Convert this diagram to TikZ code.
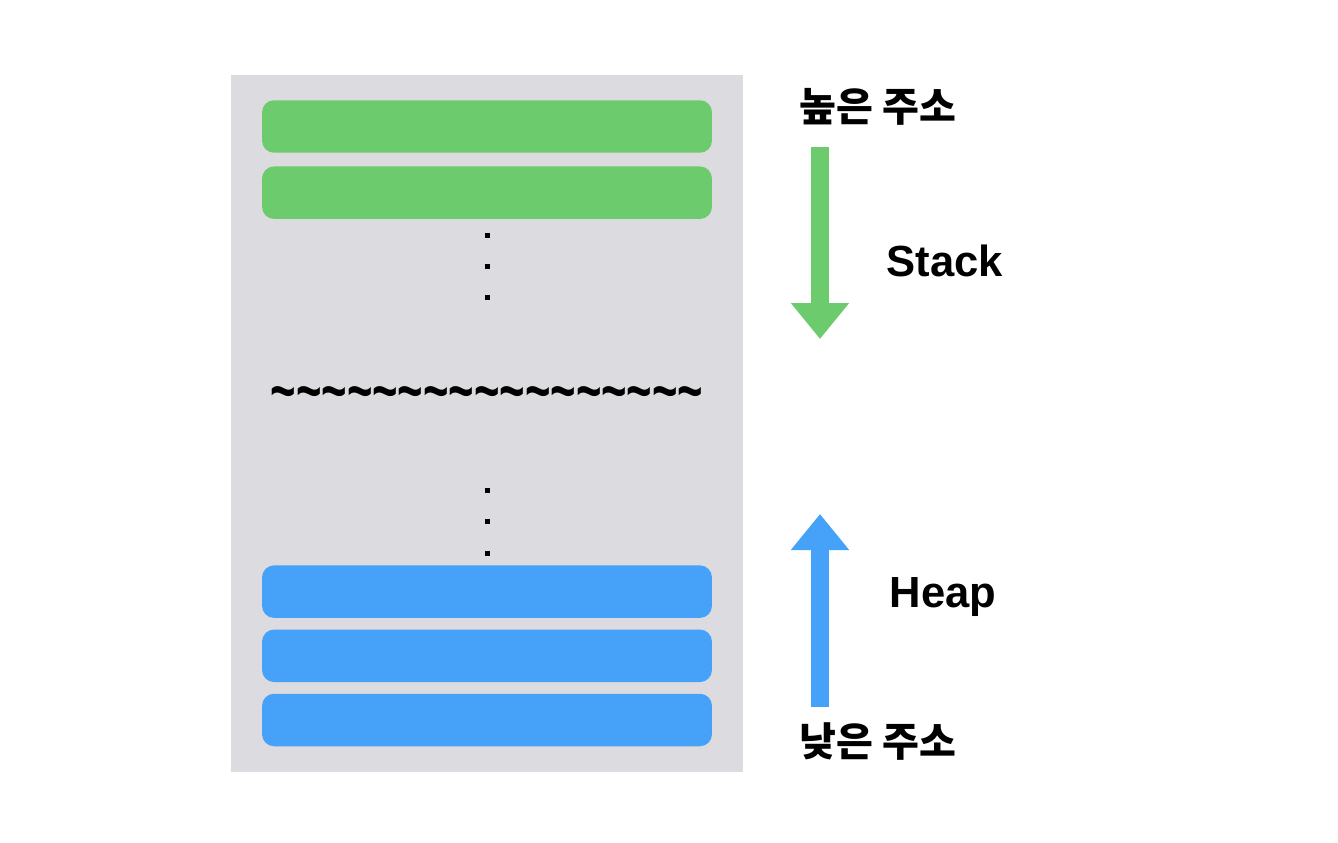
\documentclass[tikz,border=0pt]{standalone}
\usepackage{fontspec}
\setmainfont{Liberation Sans}
\newfontfamily\kofont{Noto Sans CJK KR}
\usepackage{tikz}
\usetikzlibrary{arrows.meta}
\usetikzlibrary{positioning}
\definecolor{memgray}{RGB}{220,219,224}
\definecolor{stackgreen}{RGB}{108,203,108}
\definecolor{heapblue}{RGB}{69,162,248}
\newcommand{\wavyline}{\textasciitilde\textasciitilde\textasciitilde\textasciitilde\textasciitilde\textasciitilde\textasciitilde\textasciitilde\textasciitilde\textasciitilde\textasciitilde\textasciitilde\textasciitilde\textasciitilde\textasciitilde\textasciitilde\textasciitilde}

\begin{document}
\begin{tikzpicture}[x=0.02cm,y=-0.02cm,
    block/.style={rounded corners=0.24cm,minimum width=9cm,minimum height=1.05cm,inner sep=0pt},
    bigarrow/.style={line width=0.36cm,-{Triangle[length=0.72cm,width=1.12cm]}},
    tag/.style={font=\bfseries\fontsize{24.8}{25}\selectfont,anchor=base},
    addr/.style={font=\kofont\bfseries\fontsize{22.8}{23}\selectfont,anchor=base}]
      \useasboundingbox (0,0) rectangle (1338,842);

      % memory
      \fill[memgray] (231,75) rectangle (743,772);

      \node[block,fill=stackgreen] (s1) at (487,126.5) {};
      \node[block,fill=stackgreen,below=0.26cm of s1] (s2) {};

      \node[block,fill=heapblue] (h3) at (487,720) {};
      \node[block,fill=heapblue,above=0.22cm of h3] (h2) {};
      \node[block,fill=heapblue,above=0.22cm of h2] (h1) {};

      \foreach \y in {235,266,297,490,521,553}
        \fill (485,\y-2.5) rectangle (490,\y+2.5);

      \node[font=\bfseries\fontsize{24.8}{25}\selectfont,anchor=base] (gap) at (487,412) {\scalebox{1}[1.45]{\wavyline}};

      % arrows
      \coordinate (stop) at (820,147);
      \coordinate (send) at (820,339);
      \draw[bigarrow,stackgreen] (stop) -- (send);

      \coordinate (hbot) at (820,707);
      \coordinate (hend) at (820,514);
      \draw[bigarrow,heapblue] (hbot) -- (hend);

      \node[addr] (high) at (878,121) {높은 주소};
      \node[tag] (stack) at (945,276) {Stack};
      \node[tag] (heap) at (943,607) {Heap};
      \node[addr] (low) at (878,756) {낮은 주소};
\end{tikzpicture}
\end{document}
